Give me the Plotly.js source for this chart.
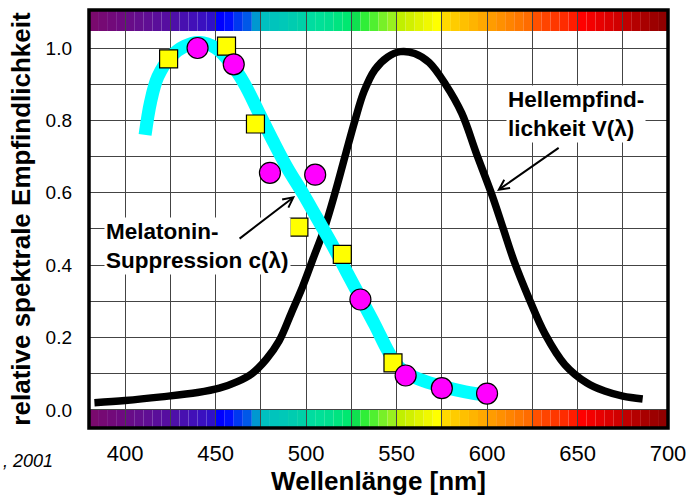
<!DOCTYPE html>
<html>
<head>
<meta charset="utf-8">
<script src="https://cdn.plot.ly/plotly-3.0.1.min.js"></script>
<style>html,body{margin:0;padding:0;background:#fff;}#chart{width:690px;height:497px;}</style>
</head>
<body>
<div id="chart"></div>
<script>
// Hellempfindlichkeit V(lambda) (black curve)
const vWavelength = [383, 400, 420, 440, 452, 462, 470, 478, 485, 492, 498, 504, 510, 516, 522, 527, 532, 538, 545, 552, 560, 568, 577, 586, 594, 603, 609, 615, 623, 632, 643, 655, 665, 675, 686];
const vValue      = [0.02, 0.026, 0.036, 0.048, 0.06, 0.078, 0.10, 0.14, 0.19, 0.27, 0.34, 0.42, 0.50, 0.60, 0.71, 0.80, 0.88, 0.94, 0.975, 0.99, 0.985, 0.96, 0.90, 0.82, 0.71, 0.59, 0.50, 0.41, 0.31, 0.21, 0.125, 0.075, 0.052, 0.038, 0.03];

// Melatonin-Suppression c(lambda) (cyan curve)
const cWavelength = [411, 414, 418, 425, 433, 441, 450, 458, 466, 474, 482, 490, 498, 506, 514, 522, 530, 538, 545, 550, 556, 565, 575, 588, 600];
const cValue      = [0.76, 0.85, 0.92, 0.975, 1.005, 1.015, 1.0, 0.96, 0.90, 0.82, 0.74, 0.665, 0.60, 0.53, 0.46, 0.385, 0.31, 0.235, 0.165, 0.125, 0.10, 0.08, 0.065, 0.05, 0.04];

// measured points
const squareWavelength = [424, 456, 472, 496, 520, 548];
const squareValue      = [0.97, 1.005, 0.79, 0.505, 0.43, 0.13];
const circleWavelength = [440, 460, 480, 505, 530, 555, 575, 600];
const circleValue      = [1.0, 0.955, 0.655, 0.65, 0.305, 0.095, 0.06, 0.045];

// ticks
const xTickVals = [400, 450, 500, 550, 600, 650, 700];
const yTickVals = [0.0, 0.2, 0.4, 0.6, 0.8, 1.0];
const yTickText = ['0.0', '0.2', '0.4', '0.6', '0.8', '1.0'];

// spectrum strip: start wavelength of each 5 nm step and its colour
const specStart = [380,385,390,395,400,405,410,415,420,425,430,435,440,445,450,455,460,465,470,475,480,485,490,495,500,505,510,515,520,525,530,535,540,545,550,555,560,565,570,575,580,585,590,595,600,605,610,615,620,625,630,635,640,645,650,655,660,665,670,675,680,685,690,695];
const specColor = ['#7a0a6e','#760a74','#720a7a','#6e0a80','#680c88','#640e8e','#600e94','#5a0e9a','#560ea0','#4e10a8','#4810b0','#4210b8','#3a10c0','#3010c8','#0000ff','#0010ff','#0038f0','#0058e8','#0098d0','#00c0c0','#00c4bc','#00c8b8','#00ccb0','#00d0a8','#00dca0','#00e098','#00e090','#00e480','#00e870','#10e050','#30ee38','#50f030','#78f028','#98f020','#c0f000','#d0f000','#e0f400','#f0f800','#ffff00','#ffd800','#ffcc00','#ffc000','#ffb400','#ffa800','#ff9c00','#ff9000','#ff8400','#ff7800','#ff6c00','#ff5000','#ff4400','#ff3800','#ff2c00','#ff1c00','#ff0000','#f40000','#e80000','#dc0000','#d00000','#c00000','#b40000','#a80000','#9c0000','#900000'];
const specStep = 5;
const stripBottom = [-0.05, 0.0];
const stripTop = [1.047, 1.105];

const FONT = 'Liberation Sans, Arial, sans-serif';

const shapes = [];
specStart.forEach((w, i) => {
  [stripBottom, stripTop].forEach(s => {
    shapes.push({type: 'rect', xref: 'x', yref: 'y', layer: 'below',
      x0: w, x1: w + specStep, y0: s[0], y1: s[1],
      fillcolor: specColor[i], line: {width: 0}});
  });
});
shapes.push({type: 'rect', xref: 'paper', yref: 'paper', x0: 0, x1: 1, y0: 0, y1: 1,
  line: {color: '#000', width: 3.5}, layer: 'above'});

const traces = [
  {x: vWavelength, y: vValue, type: 'scatter', mode: 'lines',
   line: {color: '#000', width: 7.5, shape: 'spline', smoothing: 1}, hoverinfo: 'skip'},
  {x: cWavelength, y: cValue, type: 'scatter', mode: 'lines',
   line: {color: '#00ffff', width: 13, shape: 'spline', smoothing: 1}, hoverinfo: 'skip'},
  {x: squareWavelength, y: squareValue, type: 'scatter', mode: 'markers',
   marker: {symbol: 'square', size: 18, color: '#ffff00', line: {color: '#000', width: 1.2}}},
  {x: circleWavelength, y: circleValue, type: 'scatter', mode: 'markers',
   marker: {symbol: 'circle', size: 21, color: '#ff00ff', line: {color: '#000', width: 1.2}}}
];

const layout = {
  width: 690, height: 497,
  margin: {l: 89, r: 22, t: 10, b: 69},
  paper_bgcolor: '#fff', plot_bgcolor: '#fff',
  showlegend: false,
  font: {family: FONT, color: '#000'},
  xaxis: {
    range: [380, 700], tickvals: xTickVals, ticks: '', showline: false, zeroline: false,
    showgrid: true, gridcolor: '#444', gridwidth: 1,
    minor: {dtick: 25, tick0: 0, showgrid: true, gridcolor: '#444', gridwidth: 1},
    tickfont: {size: 22, family: FONT, color: '#000'}, ticklabelstandoff: 10,
    title: {text: 'Wellenlänge [nm]', font: {size: 26, family: FONT, color: '#000', weight: 'bold'}, standoff: 5}
  },
  yaxis: {
    range: [-0.05, 1.105], tickvals: yTickVals, ticktext: yTickText, ticks: '', showline: false, zeroline: false,
    showgrid: true, gridcolor: '#444', gridwidth: 1,
    minor: {tickmode: 'array', tickvals: [0.1, 0.3, 0.5, 0.7, 0.9], showgrid: true, gridcolor: '#444', gridwidth: 1},
    tickfont: {size: 19, family: FONT, color: '#000'}, ticklabelstandoff: 16,
    title: {text: 'relative spektrale Empfindlichkeit', font: {size: 26, family: FONT, color: '#000', weight: 'bold'}, standoff: 7}
  },
  shapes: shapes,
  annotations: [
    {xref: 'x', yref: 'y', x: 388.5, y: 0.452, xanchor: 'left', yanchor: 'middle', align: 'left',
     text: 'Melatonin-<br>Suppression c(λ)', showarrow: false, bgcolor: '#fff', borderpad: 1,
     font: {size: 22.5, family: FONT, color: '#000', weight: 'bold'}},
    {xref: 'x', yref: 'y', x: 610.6, y: 0.817, xanchor: 'left', yanchor: 'middle', align: 'left',
     text: 'Hellempfind-<br>lichkeit V(λ)', showarrow: false, bgcolor: '#fff', borderpad: 1,
     font: {size: 22.5, family: FONT, color: '#000', weight: 'bold'}},
    {xref: 'x', yref: 'y', x: 493.9, y: 0.591, axref: 'x', ayref: 'y', ax: 462.4, ay: 0.47,
     text: '', showarrow: true, arrowhead: 5, arrowsize: 1, arrowwidth: 2, arrowcolor: '#000'},
    {xref: 'x', yref: 'y', x: 605.5, y: 0.605, axref: 'x', ayref: 'y', ax: 640.4, ay: 0.727,
     text: '', showarrow: true, arrowhead: 5, arrowsize: 1, arrowwidth: 2, arrowcolor: '#000'},
    {xref: 'paper', yref: 'paper', x: -0.058, y: -0.08, xanchor: 'right', yanchor: 'middle',
     text: '<i>, 2001</i>', showarrow: false, font: {size: 18, family: FONT, color: '#000'}}
  ]
};

Plotly.newPlot('chart', traces, layout, {staticPlot: true, displayModeBar: false});
</script>
</body>
</html>
